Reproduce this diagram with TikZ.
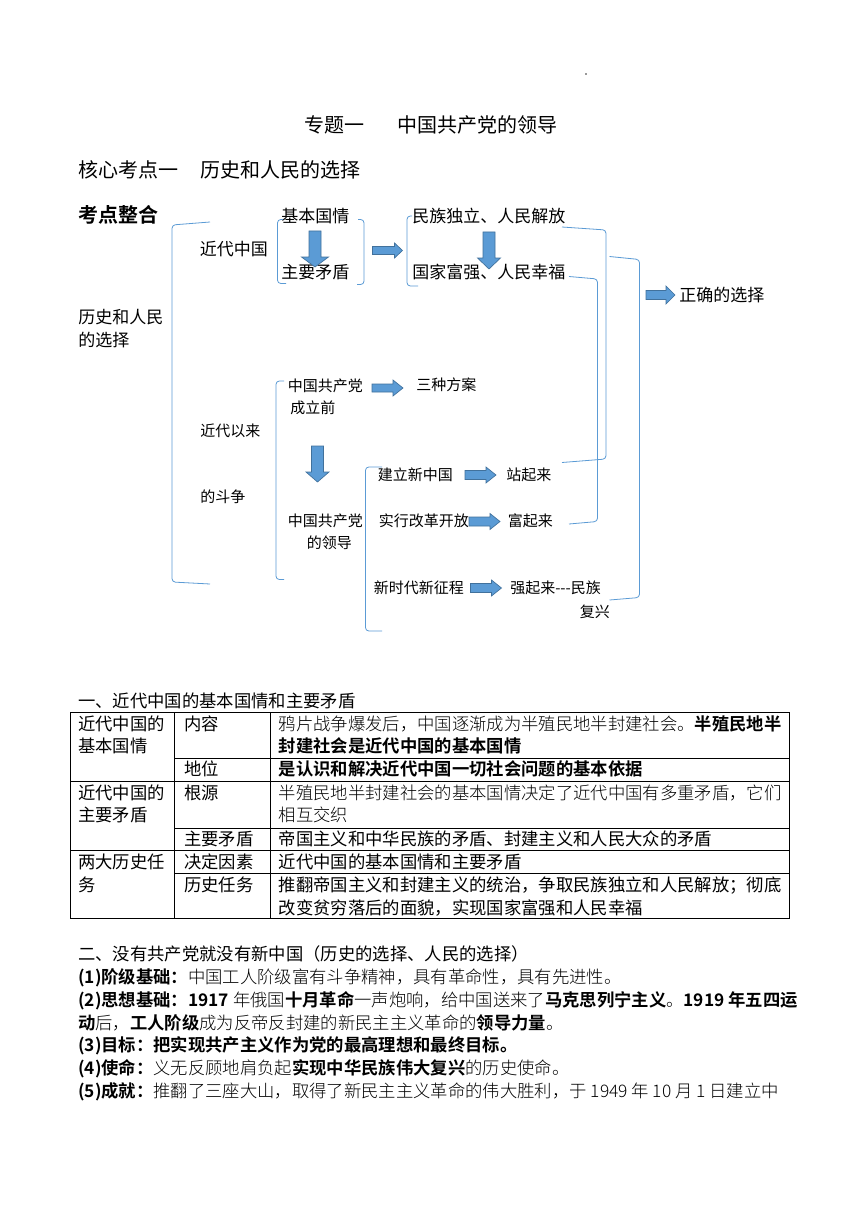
\documentclass[tikz,border=0pt]{standalone}
\usepackage{fontspec}
\setmainfont{Noto Sans CJK SC}
\IfFontExistsTF{Noto Sans CJK SC Light}
  {\newfontfamily\thinfont{Noto Sans CJK SC Light}}
  {\newfontfamily\thinfont{Noto Sans CJK SC}[Color=505050]}
\IfFontExistsTF{Noto Sans CJK SC Bold}
  {\newfontfamily\heavyfont{Noto Sans CJK SC Bold}}
  {\newfontfamily\heavyfont{Noto Sans CJK SC}[FakeBold=2]}
\newcommand{\thintxt}[1]{{\thinfont #1}}
\newcommand{\hvy}[1]{{\heavyfont #1}}
\definecolor{brkblue}{RGB}{91,155,213}
\definecolor{arrfill}{RGB}{91,155,213}
\definecolor{arredge}{RGB}{65,113,156}
\usetikzlibrary{positioning}
\tikzset{pics/barrow/.style args={#1/#2/#3/#4}{code={
  \filldraw[fill=arrfill,draw=arredge,line width=0.5pt]
    (0,-#2/2) -- ({#1-#4},-#2/2) -- ({#1-#4},-#3/2) -- (#1,0)
    -- ({#1-#4},#3/2) -- ({#1-#4},#2/2) -- (0,#2/2) -- cycle;}}}

\begin{document}
\begin{tikzpicture}[x=0.75pt,y=-0.75pt,
    txt/.style={anchor=west,inner sep=0pt,text height=0.88em,text depth=0.12em},
    big/.style={txt,font=\fontsize{15pt}{18pt}\selectfont},
    mid/.style={txt,font=\fontsize{12.75pt}{15pt}\selectfont},
    sml/.style={txt,font=\fontsize{11.25pt}{13pt}\selectfont},
    tab/.style={txt,font=\fontsize{13pt}{15pt}\selectfont},
    brk/.style={draw=brkblue,line width=0.6pt,rounded corners=2.5pt},
    rule/.style={draw=black,line width=0.5pt}]
  \useasboundingbox[fill=white] (0,0) rectangle (860,1216);
  \node[fill=black!40,inner sep=0pt,minimum size=1.5pt] (dot) at (586,74) {};

  % headings
  \node[big] (ttl) at (304,127) {专题一};
  \node[big] (ttlb) at (397,127) {中国共产党的领导};
  \node[big] (core) at (78,172) {核心考点一};
  \node[big] (coreb) at (200,172) {历史和人民的选择};
  \node[big] (kdzh) at (78,217) {\hvy{考点整合}};

  % diagram, upper half
  \node[mid] (choice) at (78,318) {历史和人民};
  \node[mid] (choiceb) at (78,341) {的选择};
  \node[mid] (jdzg) at (199.5,250) {近代中国};
  \node[mid] (jbgq) at (281,217.5) {基本国情};
  \node[mid] (zymd) at (281,273.5) {主要矛盾};
  \node[mid] (mzdl) at (412,217.5) {民族独立、人民解放};
  \node[mid] (gjfq) at (412,273) {国家富强、人民幸福};
  \node[mid] (zqxz) at (679,296) {正确的选择};
  \pic[rotate=-90] (a1) at (315,231) {barrow=36/12/27/10};
  \pic[rotate=-90] (a2) at (489,232) {barrow=37/12/23/11};
  \pic (a3) at (372.5,250.5) {barrow=30/8/15/8};
  \pic (a4) at (646,295) {barrow=29/9/18/9};

  % diagram, lower half
  \node[sml] (jdyl) at (200,431) {近代以来};
  \node[sml] (jdylb) at (200,497.5) {的斗争};
  \node[sml] (qian) at (287.5,386) {中国共产党};
  \node[sml] (qianb) at (290,408.5) {成立前};
  \node[sml] (fa) at (416,385.5) {三种方案};
  \node[sml] (ld) at (287.5,521.5) {中国共产党};
  \node[sml] (ldb) at (306.5,543) {的领导};
  \node[sml] (xzg) at (377.5,475) {建立新中国};
  \node[sml] (ggkf) at (378.5,521) {实行改革开放};
  \node[sml] (xsd) at (373.5,588) {新时代新征程};
  \node[sml] (zql) at (506,475.5) {站起来};
  \node[sml] (fql) at (507.5,521.5) {富起来};
  \node[sml] (qql) at (510,588) {强起来\mbox{-}\mbox{-}\mbox{-}民族};
  \node[sml] (fx) at (579.5,612) {复兴};
  \pic[rotate=-90] (a5) at (317.5,446) {barrow=36/12/23/10};
  \pic (a6) at (372,388) {barrow=31/8/16/10};
  \pic (a7) at (465,475) {barrow=31/9/16/10};
  \pic (a8) at (469,521.5) {barrow=31/9/16/10};
  \pic (a9) at (470.5,588) {barrow=31/9/16/10};

  % brackets
  \draw[brk] (210,222) -- (172,225) -- (172,582) -- (210,584);
  \draw[brk] (283,219.5) -- (277.5,219.5) -- (277.5,283.5) -- (286,283.5);
  \draw[brk] (358,219.5) -- (364,219.5) -- (364,284.5) -- (357,284.5);
  \draw[brk] (412,216) -- (407,216) -- (407,286) -- (418,286);
  \draw[brk] (284,381) -- (276,381) -- (276,579.5) -- (284,579.5);
  \draw[brk] (382,467) -- (365.5,467) -- (365.5,631) -- (382,631);
  \draw[brk] (562,227) -- (606,230) -- (606,459) -- (562,462.5);
  \draw[brk] (569,276.5) -- (597.5,279) -- (597.5,521.5) -- (569,524);
  \draw[brk] (609.5,256.5) -- (639.5,259.5) -- (639.5,597.5) -- (609.5,600);

  % table
  \node[tab] (sec1) at (78,702.5) {一、近代中国的基本国情和主要矛盾};
  \draw[rule] (70,712.5) rectangle (789,918);
  \draw[rule] (174.5,712.5) -- (174.5,918);
  \draw[rule] (270,712.5) -- (270,918);
  \draw[rule] (174.5,758.5) -- (789,758.5);
  \draw[rule] (70,781) -- (789,781);
  \draw[rule] (174.5,828) -- (789,828);
  \draw[rule] (70,850.5) -- (789,850.5);
  \draw[rule] (174.5,873.5) -- (789,873.5);

  \node[tab] (r1a) at (78,725) {近代中国的};
  \node[tab] (r1b) at (78,747) {基本国情};
  \node[tab] (r1c) at (184,725) {内容};
  \node[tab] (r1d) at (278.5,725) {\thintxt{鸦片战争爆发后，中国逐渐成为半殖民地半封建社会。}\hvy{半殖民地半}};
  \node[tab] (r1e) at (278.5,747) {\hvy{封建社会是近代中国的基本国情}};
  \node[tab] (r2c) at (184,770.5) {地位};
  \node[tab] (r2d) at (278.5,770.5) {\hvy{是认识和解决近代中国一切社会问题的基本依据}};
  \node[tab] (r3a) at (78,794) {近代中国的};
  \node[tab] (r3b) at (78,816.5) {主要矛盾};
  \node[tab] (r3c) at (184,794) {根源};
  \node[tab] (r3d) at (278.5,794) {\thintxt{半殖民地半封建社会的基本国情决定了近代中国有多重矛盾，它们}};
  \node[tab] (r3e) at (278.5,816.5) {\thintxt{相互交织}};
  \node[tab] (r4c) at (184,840) {主要矛盾};
  \node[tab] (r4d) at (278.5,840) {帝国主义和中华民族的矛盾、封建主义和人民大众的矛盾};
  \node[tab] (r5a) at (78,863) {两大历史任};
  \node[tab] (r5b) at (78,886.5) {务};
  \node[tab] (r5c) at (184,863) {决定因素};
  \node[tab] (r5d) at (278.5,863) {近代中国的基本国情和主要矛盾};
  \node[tab] (r6c) at (184,886.5) {历史任务};
  \node[tab] (r6d) at (278.5,886.5) {推翻帝国主义和封建主义的统治，争取民族独立和人民解放；彻底};
  \node[tab] (r6e) at (278.5,909) {改变贫穷落后的面貌，实现国家富强和人民幸福};

  % section two
  \node[tab] (sec2) at (78,955.5) {二、没有共产党就没有新中国（历史的选择、人民的选择）};
  \node[tab] (p1) at (78,978.5) {\hvy{(1)阶级基础：}\thintxt{中国工人阶级富有斗争精神，具有革命性，具有先进性。}};
  \node[tab] (p2) at (78,1001) {\hvy{(2)思想基础：1917}\thintxt{ 年俄国}\hvy{十月革命}\thintxt{一声炮响，给中国送来了}\hvy{马克思列宁主义}\thintxt{。}\hvy{1919 年五四运}};
  \node[tab] (p2b) at (78,1024) {\hvy{动}\thintxt{后，}\hvy{工人阶级}\thintxt{成为反帝反封建的新民主主义革命的}\hvy{领导力量}\thintxt{。}};
  \node[tab] (p3) at (78,1046.5) {\hvy{(3)目标：把实现共产主义作为党的最高理想和最终目标。}};
  \node[tab] (p4) at (78,1069.5) {\hvy{(4)使命：}\thintxt{义无反顾地肩负起}\hvy{实现中华民族伟大复兴}\thintxt{的历史使命。}};
  \node[tab] (p5) at (78,1092) {\hvy{(5)成就：}\thintxt{推翻了三座大山，取得了新民主主义革命的伟大胜利，于 1949 年 10 月 1 日建立中}};
\end{tikzpicture}
\end{document}
